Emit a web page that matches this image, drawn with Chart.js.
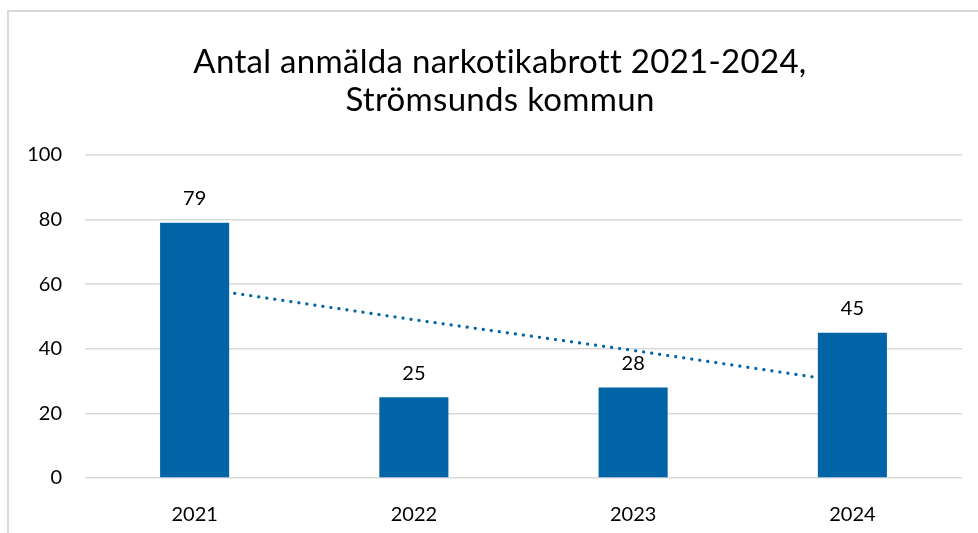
<!DOCTYPE html>
<html>
<head>
<meta charset="utf-8">
<script src="https://cdn.jsdelivr.net/npm/chart.js@4"></script>
<style>
  html, body { margin: 0; padding: 0; background: #fff; }
  #wrap { width: 978px; height: 533px; }
</style>
</head>
<body>
<div id="wrap"><canvas id="myChart"></canvas></div>
<script>
const years = ["2021", "2022", "2023", "2024"];
const crimes = [79, 25, 28, 45];
// linear trend
const trend = [59, 49, 39.5, 29.5];
const yTicks = [0, 20, 40, 60, 80, 100];
const titleLines = ["Antal anmälda narkotikabrott 2021-2024,", "Strömsunds kommun"];

const blue = "#0064a6";
const fontFam = "Lato, 'Liberation Sans', sans-serif";

const frame = {
  id: "frame",
  beforeDraw(chart) {
    const c = chart.ctx;
    c.save();
    c.strokeStyle = "#d9d9d9";
    c.lineWidth = 2;
    c.beginPath();
    c.moveTo(8, 533);
    c.lineTo(8, 11);
    c.lineTo(978, 11);
    c.stroke();
    // title
    c.fillStyle = "#000";
    c.font = "33px " + fontFam;
    c.letterSpacing = "0.3px";
    c.textAlign = "center";
    c.textBaseline = "middle";
    titleLines.forEach((t, i) => c.fillText(t, 500, 62 + i * 38));
    c.restore();
  }
};

const barLabels = {
  id: "barLabels",
  afterDatasetsDraw(chart) {
    const c = chart.ctx;
    const meta = chart.getDatasetMeta(0);
    c.save();
    c.font = "20px " + fontFam;
    c.fillStyle = "#000";
    c.textAlign = "center";
    c.textBaseline = "middle";
    meta.data.forEach((bar, i) => {
      c.fillText(crimes[i], bar.x, bar.y - 24);
    });
    c.restore();
  }
};

new Chart(document.getElementById("myChart"), {
  data: {
    labels: years,
    datasets: [{
      type: "bar",
      data: crimes,
      backgroundColor: blue,
      barPercentage: 0.315,
      categoryPercentage: 1,
      order: 0
    }, {
      type: "line",
      data: trend,
      borderColor: blue,
      borderWidth: 3.2,
      borderDash: [0.1, 8],
      borderCapStyle: "round",
      pointRadius: 0,
      fill: false,
      order: 1
    }]
  },
  options: {
    responsive: true,
    maintainAspectRatio: false,
    animation: false,
    layout: { padding: { top: 155, right: 16, left: 0, bottom: 0 } },
    plugins: {
      legend: { display: false },
      tooltip: { enabled: false },
      title: { display: false }
    },
    scales: {
      x: {
        grid: { display: false },
        border: { display: false },
        ticks: { color: "#000", font: { family: fontFam, size: 20 }, padding: 17 },
        afterFit(scale) { scale.height = 55; }
      },
      y: {
        min: 0,
        max: 100,
        afterBuildTicks(scale) { scale.ticks = yTicks.map(v => ({ value: v })); },
        grid: { color: "#d9d9d9", lineWidth: 1.5, drawTicks: false },
        border: { display: false },
        ticks: { color: "#000", font: { family: fontFam, size: 20 }, padding: 23 },
        afterFit(scale) { scale.width = 85; }
      }
    }
  },
  plugins: [frame, barLabels]
});
</script>
</body>
</html>
